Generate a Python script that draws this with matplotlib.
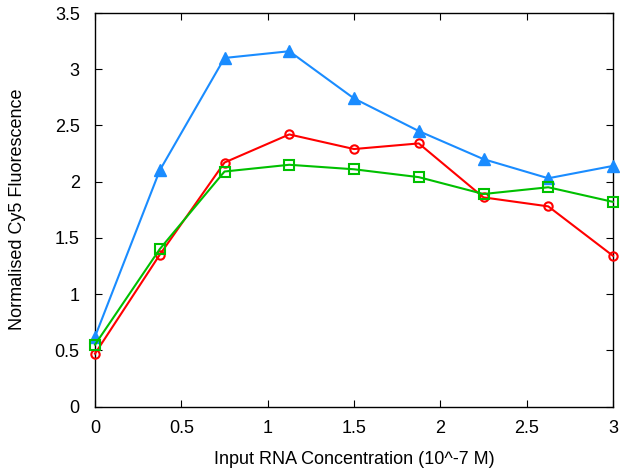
import matplotlib
matplotlib.use("Agg")
import matplotlib.pyplot as plt

x = [0, 0.375, 0.75, 1.125, 1.5, 1.875, 2.25, 2.625, 3.0]
blue = [0.62, 2.10, 3.10, 3.16, 2.74, 2.45, 2.20, 2.03, 2.14]
red = [0.47, 1.35, 2.17, 2.42, 2.29, 2.34, 1.86, 1.78, 1.34]
green = [0.55, 1.40, 2.09, 2.15, 2.11, 2.04, 1.89, 1.95, 1.82]
xticks = [0, 0.5, 1, 1.5, 2, 2.5, 3]
xticklabels = ["0", "0.5", "1", "1.5", "2", "2.5", "3"]
yticks = [0, 0.5, 1, 1.5, 2, 2.5, 3, 3.5]
yticklabels = ["0", "0.5", "1", "1.5", "2", "2.5", "3", "3.5"]

plt.rcParams['font.family'] = ['Liberation Sans', 'DejaVu Sans']
fig = plt.figure(figsize=(6.2, 4.73), dpi=100)
ax = fig.add_axes([95/620, 66.5/473, (613-95)/620, (406.5-13)/473])

ax.plot(x, blue, color='#1a8cff', lw=1.5, marker='^', ms=8, clip_on=False, zorder=3)
ax.plot(x, red, color='#ff0000', lw=1.5, marker='o', ms=6, mfc='none', mew=1.5, clip_on=False, zorder=4)
ax.plot(x, green, color='#00c000', lw=1.5, marker='s', ms=7, mfc='none', mew=1.5, clip_on=False, zorder=5)

ax.set_xlim(0, 3)
ax.set_ylim(0, 3.5)
ax.set_xticks(xticks)
ax.set_xticklabels(xticklabels)
ax.set_yticks(yticks)
ax.set_yticklabels(yticklabels)
ax.tick_params(direction='in', top=True, right=True, length=5, labelsize=13)
ax.tick_params(axis='x', pad=10)
ax.tick_params(axis='y', pad=11)
ax.set_xlabel("Input RNA Concentration (10^-7 M)", fontsize=13)
ax.set_ylabel("Normalised Cy5 Fluorescence", fontsize=13)
ax.xaxis.set_label_coords(0.5, -(451 - 406.5) / 393.5)
ax.yaxis.set_label_coords(-(95 - 26) / 518, 0.5)
for s in ax.spines.values():
    s.set_linewidth(1.0)

fig.savefig("out.png", dpi=100)
